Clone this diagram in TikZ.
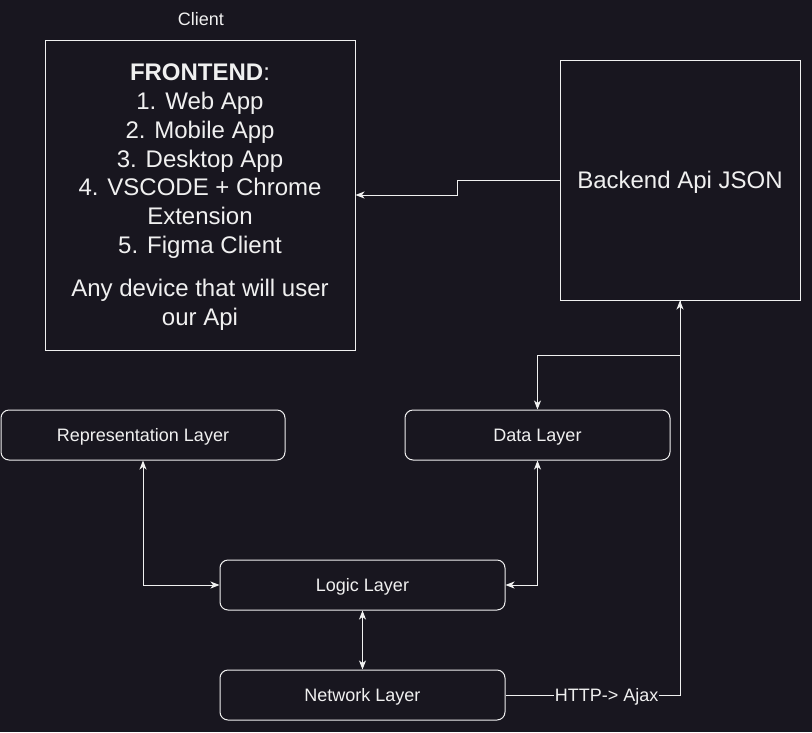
\documentclass[tikz,border=0pt]{standalone}
\usepackage{fontspec}
\setmainfont{Liberation Sans}
\usetikzlibrary{arrows.meta}
\definecolor{bg}{RGB}{24,22,31}
\definecolor{ink}{RGB}{240,240,240}

\begin{document}
\begin{tikzpicture}[x=1pt,y=-1pt,
  every node/.style={text=ink, font=\fontsize{18}{21.6}\selectfont},
  oneline/.style={text height=16.3pt, text depth=3.8pt},
  onelinebig/.style={text height=21.7pt, text depth=5.1pt},
  tip/.tip={Stealth[length=9pt,width=7pt,inset=2.5pt]},
  layer/.style={draw=ink, line width=1pt, fill=bg, rounded corners=8pt,
    minimum height=50pt, inner sep=0pt, oneline},
  bigbox/.style={draw=ink, line width=1pt, fill=bg, inner sep=0pt},
  bigtext/.style={align=center, inner sep=0pt, font=\fontsize{24}{28.8}\selectfont},
  link/.style={draw=ink, line width=1pt, -tip},
  twoway/.style={draw=ink, line width=1pt, tip-tip},
  tag/.style={fill=bg, inner sep=1pt, oneline}
]
\fill[bg] (0,0) rectangle (812,732);

% caption above the client box
\node[oneline] (cap) at (201,19) {Client};

% client side
\node[bigbox, minimum width=310pt, minimum height=310pt] (fe) at (200,195) {};
\node[bigtext] (fetext) at ([yshift=-2pt]fe.center)
  {\textbf{FRONTEND}:\\
   1. Web App\\
   2. Mobile App\\
   3. Desktop App\\
   4. VSCODE + Chrome\\
   Extension\\
   5. Figma Client\\[14pt]
   Any device that will user\\
   our Api};

% server side
\node[bigbox, minimum width=240pt, minimum height=240pt] (be) at (680,180) {};
\node[bigtext, onelinebig] (betext) at (be.center) {Backend Api JSON};

% application layers
\node[layer, minimum width=284pt] (rl) at (143,435) {Representation Layer};
\node[layer, minimum width=265pt] (dl) at (537.5,435) {Data Layer};
\node[layer, minimum width=285pt] (ll) at (362.5,585) {Logic Layer};
\node[layer, minimum width=285pt] (nw) at (362.5,695) {Network Layer};

% connectors
\draw[link] (be.west) -- ++(-102,0) |- (fe.east);
\draw[link] (be.south) -- ++(0,55) -| (dl.north);
\coordinate (turn) at (be.south |- nw.east);
\draw[link] (nw.east) -- node[tag, pos=0.58] {HTTP-> Ajax} (turn) -- (be.south);
\draw[twoway] (rl.south) |- (ll.west);
\draw[twoway] (dl.south) |- (ll.east);
\draw[twoway] (ll.south) -- (nw.north);
\end{tikzpicture}
\end{document}
